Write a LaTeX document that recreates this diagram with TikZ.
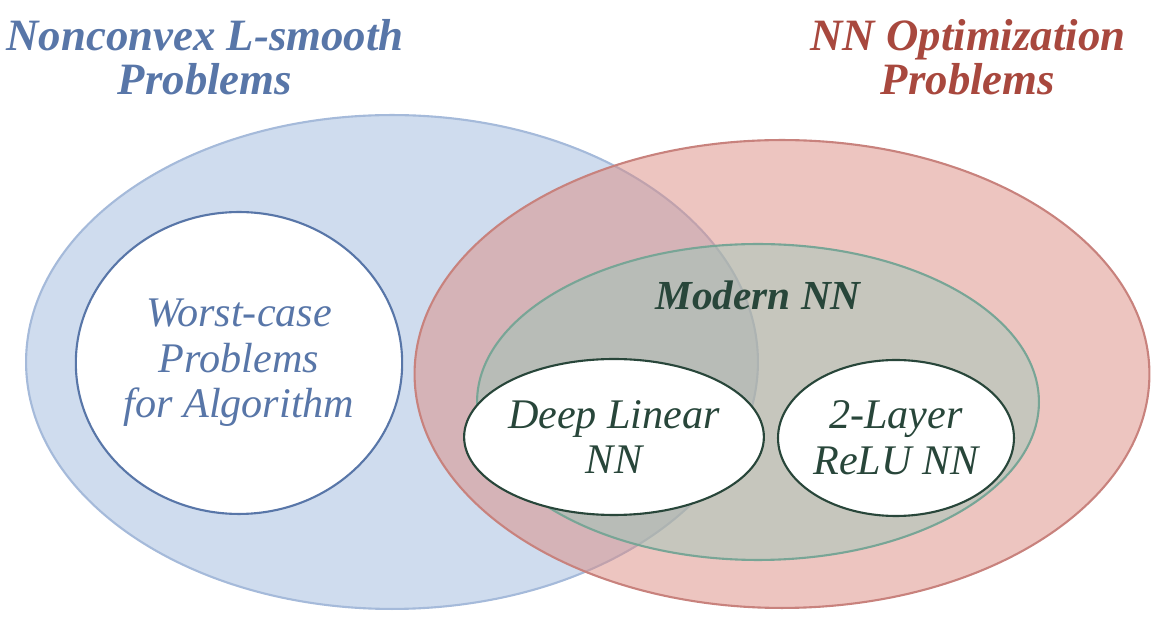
\documentclass[tikz,border=0pt]{standalone}
\usepackage{fontspec}
\setmainfont{Liberation Serif}
\usetikzlibrary{shapes.geometric}
\definecolor{bluefill}{RGB}{207,220,238}
\definecolor{blueline}{RGB}{165,186,218}
\definecolor{bluetext}{RGB}{88,118,168}
\definecolor{redfill}{RGB}{220,140,130}
\definecolor{redline}{RGB}{200,130,125}
\definecolor{redtext}{RGB}{168,72,62}
\definecolor{greenfill}{RGB}{150,200,185}
\definecolor{greenline}{RGB}{120,165,150}
\definecolor{greentext}{RGB}{40,70,58}
\tikzstyle{set} = [ellipse, draw, line width = 1.2pt]
\tikzstyle{inner} = [ellipse, draw, fill = white, line width = 1.2pt, align = center, font = \itshape\fontsize{24}{26}\selectfont]
\tikzstyle{title} = [align = center, font = \bfseries\itshape\fontsize{25.5}{25}\selectfont]

\begin{document}
\begin{tikzpicture}[x = 0.02cm, y = -0.02cm]
        \useasboundingbox (0,0) rectangle (1161,634);

        \node[set, fill = bluefill, draw = blueline, minimum width = 14.64cm, minimum height = 9.88cm] (nonconvex) at (392,362) {};
        \node[set, fill = redfill, fill opacity = 0.5, draw = redline, minimum width = 14.7cm, minimum height = 9.36cm] (nnopt) at (782,374) {};
        \node[set, fill = greenfill, fill opacity = 0.45, draw = greenline, minimum width = 11.24cm, minimum height = 6.32cm] (modern) at (758,402) {};

        \node[inner, draw = bluetext, text = bluetext, inner sep = 0pt, minimum width = 5.56cm, minimum height = 6.04cm] (worst) at (239,363) {Worst-case\\Problems\\for Algorithm};
        \node[inner, draw = greentext, text = greentext, inner sep = 0pt, minimum width = 4.56cm, minimum height = 3.12cm] (deep) at (614,437) {Deep Linear\\NN};
        \node[inner, draw = greentext, text = greentext, inner sep = 0pt, minimum width = 4.72cm, minimum height = 3.12cm] (relu) at (896,438) {2-Layer\\ReLU NN};

        \node[title, text = bluetext] (nonconvexlabel) at (205,57) {Nonconvex L-smooth\\Problems};
        \node[title, text = redtext] (nnoptlabel) at (968,57) {NN Optimization\\Problems};
        \node[title, text = greentext, font = \bfseries\itshape\fontsize{23.5}{25}\selectfont] (modernlabel) at (758,295) {Modern NN};
    \end{tikzpicture}
\end{document}
